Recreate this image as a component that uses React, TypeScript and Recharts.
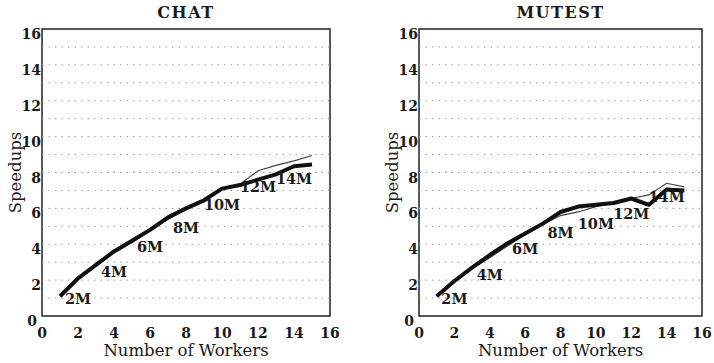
import { ComposedChart, Line, Scatter, XAxis, YAxis, ReferenceLine, ReferenceArea } from 'recharts'

const workers = [1, 2, 3, 4, 5, 6, 7, 8, 9, 10, 11, 12, 13, 14, 15]
const axisTicks = [0, 2, 4, 6, 8, 10, 12, 14, 16]
const gridLevels = [1, 2, 3, 4, 5, 6, 7, 8, 9, 10, 11, 12, 13, 14, 15]

// CHAT speedups
const chatThick = [1.1, 2.1, 2.85, 3.6, 4.2, 4.8, 5.5, 6.0, 6.45, 7.1, 7.3, 7.6, 7.9, 8.35, 8.45]
const chatThin = [1.1, 2.05, 2.8, 3.55, 4.1, 4.75, 5.4, 5.95, 6.4, 7.05, 7.35, 8.1, 8.4, 8.65, 8.95]

// MUTEST speedups
const mutestThick = [1.1, 1.95, 2.7, 3.4, 4.05, 4.6, 5.15, 5.8, 6.1, 6.2, 6.3, 6.55, 6.2, 7.05, 7.0]
const mutestThin = [1.1, 1.95, 2.65, 3.25, 3.9, 4.55, 5.1, 5.6, 5.8, 6.1, 6.3, 6.55, 6.75, 7.4, 7.2]

// memory size annotations
const memLabels = ['2M', '4M', '6M', '8M', '10M', '12M', '14M']
const memLabelX = [2, 4, 6, 8, 10, 12, 14]
const chatLabelY = [0.94, 2.43, 3.85, 4.91, 6.2, 7.18, 7.61]
const mutestLabelY = [0.94, 2.28, 3.76, 4.64, 5.15, 5.7, 6.63]

const serif = '"DejaVu Serif", "Liberation Serif", serif'
const ink = '#1a1a1a'

function XTick({ x, y, payload }: any) {
  return (
    <text x={x} y={y + 20} textAnchor="middle" fontFamily={serif} fontWeight="bold" fontSize={14} fill={ink}>
      {payload.value}
    </text>
  )
}

function YTick({ x, y, payload }: any) {
  // the zero sits a little left so it clears the x-axis zero
  const dx = payload.value === 0 ? -4 : 0
  return (
    <text x={x + dx} y={y + 10} textAnchor="end" fontFamily={serif} fontWeight="bold" fontSize={14} fill={ink}>
      {payload.value}
    </text>
  )
}

function MemLabel(props: any) {
  const { cx, cy, payload } = props
  return (
    <text x={cx} y={cy + 5} textAnchor="middle" fontFamily={serif} fontWeight="bold" fontSize={14.5} fill={ink}>
      {payload.label}
    </text>
  )
}

interface PanelProps {
  title: string
  thick: number[]
  thin: number[]
  labelY: number[]
  yAxisWidth: number
  rightMargin: number
  yLabelX: number
}

function Panel({ title, thick, thin, labelY, yAxisWidth, rightMargin, yLabelX }: PanelProps) {
  const rows = workers.map((w, i) => ({ x: w, thick: thick[i], thin: thin[i] }))
  const labels = memLabelX.map((x, i) => ({ x, y: labelY[i], label: memLabels[i] }))
  const plotCenter = yAxisWidth + (357 - yAxisWidth - rightMargin) / 2

  return (
    <div style={{ position: 'relative', width: 357, height: 363 }}>
      <div
        style={{
          position: 'absolute',
          top: 3,
          left: 0,
          width: plotCenter * 2,
          textAlign: 'center',
          fontFamily: serif,
          fontWeight: 'bold',
          fontSize: 16,
          letterSpacing: 1.5,
          color: ink,
        }}
      >
        {title}
      </div>
      <ComposedChart
        width={357}
        height={363}
        data={rows}
        margin={{ top: 29, right: rightMargin, bottom: 0, left: 0 }}
      >
        <XAxis
          type="number"
          dataKey="x"
          domain={[0, 16]}
          ticks={axisTicks}
          height={47}
          axisLine={false}
          tickLine={false}
          tickSize={0}
          tick={<XTick />}
          label={{
            content: ({ viewBox }: any) => (
              <text
                x={viewBox.x + viewBox.width / 2}
                y={356}
                textAnchor="middle"
                fontFamily={serif}
                fontSize={16.5}
                fill={ink}
              >
                Number of Workers
              </text>
            ),
          }}
        />
        <YAxis
          type="number"
          domain={[0, 16]}
          ticks={axisTicks}
          width={yAxisWidth}
          axisLine={false}
          tickLine={false}
          tickSize={0}
          tickMargin={1}
          tick={<YTick />}
          label={{
            content: ({ viewBox }: any) => (
              <text
                x={yLabelX}
                y={viewBox.y + viewBox.height / 2}
                textAnchor="middle"
                dominantBaseline="central"
                transform={`rotate(-90 ${yLabelX} ${viewBox.y + viewBox.height / 2})`}
                fontFamily={serif}
                fontSize={16.5}
                fill={ink}
              >
                Speedups
              </text>
            ),
          }}
        />
        {gridLevels.map((g) => (
          <ReferenceLine key={g} y={g} stroke="#9a9a9a" strokeWidth={1} strokeDasharray="1.5 5" />
        ))}
        <Scatter data={labels} dataKey="y" shape={<MemLabel />} isAnimationActive={false} />
        <Line
          type="linear"
          dataKey="thin"
          stroke="#444"
          strokeWidth={1.2}
          dot={false}
          isAnimationActive={false}
        />
        <Line
          type="linear"
          dataKey="thick"
          stroke="#111"
          strokeWidth={4}
          dot={false}
          strokeLinejoin="round"
          isAnimationActive={false}
        />
        <ReferenceArea x1={0} x2={16} y1={0} y2={16} fill="none" stroke="#222" strokeWidth={1.5} />
      </ComposedChart>
    </div>
  )
}

export default function App() {
  return (
    <div style={{ position: 'absolute', left: 0, top: 0, width: 714, height: 363, display: 'flex', background: '#fff' }}>
      <Panel title="CHAT" thick={chatThick} thin={chatThin} labelY={chatLabelY} yAxisWidth={42} rightMargin={27} yLabelX={15} />
      <Panel title="MUTEST" thick={mutestThick} thin={mutestThin} labelY={mutestLabelY} yAxisWidth={62} rightMargin={12} yLabelX={35} />
    </div>
  )
}
